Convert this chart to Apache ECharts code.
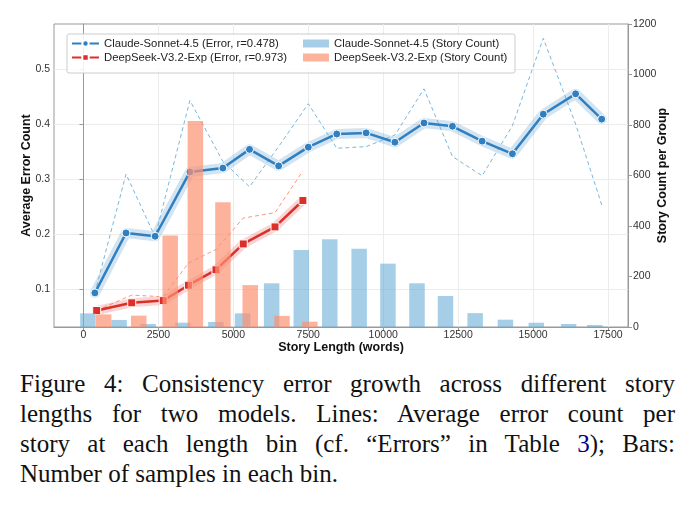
<!DOCTYPE html>
<html>
<head>
<meta charset="utf-8">
<script src="https://cdn.jsdelivr.net/npm/echarts@6/dist/echarts.min.js"></script>
<style>
body { margin: 0; background: #fff; }
#chart { width: 693px; height: 365px; }
#caption { position: absolute; left: 20px; top: 369px; width: 655px; font-family: "Liberation Serif", "Times New Roman", serif; font-size: 25px; line-height: 30px; color: #111; }
.j { text-align: justify; text-align-last: justify; }
.ref { color: #00008b; }
</style>
</head>
<body>
<div id="chart"></div>
<div id="caption">
	<div class="j">Figure 4: Consistency error growth across different story</div>
	<div class="j">lengths for two models. Lines: Average error count per</div>
	<div class="j">story at each length bin (cf. “Errors” in Table <span class="ref">3</span>); Bars:</div>
	<div>Number of samples in each bin.</div>
</div>
<script>
// 长度分组（平均字数）和误差
var claudeLen = [380, 1420, 2390, 3550, 4650, 5540, 6510, 7500, 8450, 9430, 10390, 11360, 12310, 13300, 14310, 15340, 16420, 17290];
var claudeErr = [0.093, 0.202, 0.196, 0.313, 0.320, 0.354, 0.324, 0.358, 0.382, 0.384, 0.367, 0.402, 0.396, 0.369, 0.346, 0.418, 0.455, 0.409];
var claudeErrDash = [0.093, 0.309, 0.195, 0.443, 0.332, 0.286, 0.359, 0.437, 0.356, 0.359, 0.380, 0.464, 0.341, 0.306, 0.397, 0.556, 0.400, 0.253];
var claudeCount = [54, 28, 12, 17, 20, 54, 173, 305, 348, 310, 251, 173, 123, 55, 29, 17, 12, 8];

var deepLen = [440, 1610, 2660, 3500, 4420, 5330, 6390, 7320];
var deepErr = [0.061, 0.075, 0.079, 0.107, 0.135, 0.182, 0.213, 0.261];
var deepErrDash = [0.061, 0.089, 0.086, 0.147, 0.172, 0.229, 0.239, 0.315];
var deepCount = [50, 45, 362, 816, 494, 166, 44, 21];

var xTicks = [0, 2500, 5000, 7500, 10000, 12500, 15000, 17500];
var errTicks = [0.1, 0.2, 0.3, 0.4, 0.5];

var claudeName = "Claude-Sonnet-4.5 (Error, r=0.478)";
var deepName = "DeepSeek-V3.2-Exp (Error, r=0.973)";
var claudeBarName = "Claude-Sonnet-4.5 (Story Count)";
var deepBarName = "DeepSeek-V3.2-Exp (Story Count)";

function pairs(xs, ys) {
	var arr = [];
	for (var i = 0; i < xs.length; i++) {
		arr.push([xs[i], ys[i]]);
	}
	return arr;
}

var font = "Liberation Sans";
var gray = "#999";
var plain = function(v) { return String(v); };

var chart = echarts.init(document.getElementById("chart"));
var option = {
	animation: false,
	textStyle: { fontFamily: font },
	grid: { left: 54, right: 65, top: 24, bottom: 38, show: true, borderColor: gray, borderWidth: 1 },
	graphic: [{
		type: "rect",
		z: 100,
		shape: { x: 67, y: 34, width: 448, height: 39, r: 2 },
		style: { fill: "rgba(255,255,255,0.85)", stroke: "#ccc", lineWidth: 1 }
	}],
	legend: [{
		z: 110,
		orient: "vertical",
		left: 71,
		top: 38,
		padding: 0,
		itemGap: 3,
		itemWidth: 27,
		itemHeight: 8,
		textStyle: { fontSize: 11.3, color: "#222", fontFamily: font },
		data: [claudeName, deepName]
	}, {
		z: 110,
		orient: "vertical",
		left: 303,
		top: 38,
		padding: 0,
		itemGap: 3,
		itemWidth: 26,
		itemHeight: 8,
		icon: "rect",
		textStyle: { fontSize: 11.3, color: "#222", fontFamily: font },
		data: [claudeBarName, deepBarName]
	}],
	xAxis: {
		type: "value",
		min: -984,
		max: 18167,
		name: "Story Length (words)",
		nameLocation: "middle",
		nameGap: 14,
		nameMoveOverlap: false,
		nameTextStyle: { fontSize: 12.5, fontWeight: "bold", color: "#111" },
		axisLine: { show: true, lineStyle: { color: gray } },
		axisTick: { show: true, length: 4, lineStyle: { color: gray }, customValues: xTicks },
		axisLabel: { fontSize: 10.5, color: "#333", margin: 3, customValues: xTicks, formatter: plain },
		splitLine: { show: true, lineStyle: { color: "#ececec" } }
	},
	yAxis: [{
		type: "value",
		position: "left",
		min: 0.031,
		max: 0.582,
		name: "Average Error Count",
		nameLocation: "middle",
		nameGap: 21,
		nameMoveOverlap: false,
		nameTextStyle: { fontSize: 12.5, fontWeight: "bold", color: "#111" },
		axisLine: { show: true, lineStyle: { color: gray } },
		axisTick: { show: true, length: 4, lineStyle: { color: gray }, customValues: errTicks },
		axisLabel: {
			fontSize: 10.5, color: "#333", margin: 4, customValues: errTicks,
			formatter: function(v) { return v.toFixed(1); }
		},
		splitLine: { show: true, lineStyle: { color: "#ececec" } }
	}, {
		type: "value",
		position: "right",
		min: 0,
		max: 1200,
		interval: 200,
		name: "Story Count per Group",
		nameLocation: "middle",
		nameGap: 28,
		nameMoveOverlap: false,
		nameTextStyle: { fontSize: 12.5, fontWeight: "bold", color: "#111" },
		axisLine: { show: true, lineStyle: { color: gray } },
		axisTick: { show: true, length: 4, lineStyle: { color: gray } },
		axisLabel: { fontSize: 10.5, color: "#333", margin: 5, formatter: plain },
		splitLine: { show: false }
	}],
	series: [
		// 置信带
		{
			type: "line", yAxisIndex: 0, z: 1, silent: true, showSymbol: false, symbol: "none",
			data: pairs(claudeLen, claudeErr),
			lineStyle: { width: 10, color: "rgba(49,130,189,0.22)", join: "round", cap: "round" }
		},
		{
			type: "line", yAxisIndex: 0, z: 1, silent: true, showSymbol: false, symbol: "none",
			data: pairs(deepLen, deepErr),
			lineStyle: { width: 9, color: "rgba(222,45,38,0.2)", join: "round", cap: "round" }
		},
		// 虚线
		{
			type: "line", yAxisIndex: 0, z: 1, silent: true, symbol: "none",
			data: pairs(claudeLen, claudeErrDash),
			lineStyle: { width: 1, type: [4, 3], color: "rgba(107,174,214,0.9)" }
		},
		{
			type: "line", yAxisIndex: 0, z: 1, silent: true, symbol: "none",
			data: pairs(deepLen, deepErrDash),
			lineStyle: { width: 1, type: [4, 3], color: "rgba(251,106,74,0.7)" }
		},
		// 主折线
		{
			name: claudeName, type: "line", yAxisIndex: 0, z: 2,
			data: pairs(claudeLen, claudeErr),
			symbol: "circle", symbolSize: 8,
			lineStyle: { width: 2.5, color: "#2f7fc1" },
			itemStyle: { color: "#2f7fc1", borderColor: "#fff", borderWidth: 1 }
		},
		{
			name: deepName, type: "line", yAxisIndex: 0, z: 2,
			data: pairs(deepLen, deepErr),
			symbol: "rect", symbolSize: 8,
			lineStyle: { width: 2.5, color: "#dc2f2a" },
			itemStyle: { color: "#dc2f2a", borderColor: "#fff", borderWidth: 1 }
		},
		// 柱状图
		{
			name: claudeBarName, type: "bar", yAxisIndex: 1, z: 3,
			data: pairs(claudeLen, claudeCount),
			barWidth: 15.5, barGap: "-10%",
			itemStyle: { color: "rgba(107,174,214,0.6)" }
		},
		{
			name: deepBarName, type: "bar", yAxisIndex: 1, z: 3,
			data: pairs(deepLen, deepCount),
			barWidth: 15.5, barGap: "-10%",
			itemStyle: { color: "rgba(252,146,114,0.7)" }
		}
	]
};
chart.setOption(option);
</script>
</body>
</html>
